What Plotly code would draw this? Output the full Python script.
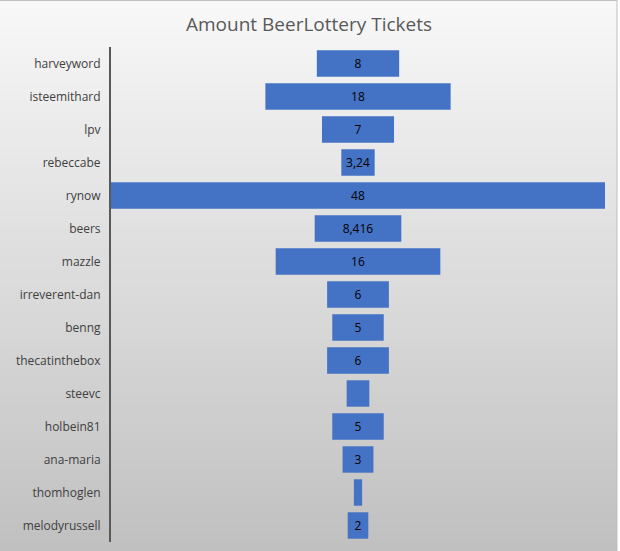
import plotly.graph_objects as go

names = ["harveyword", "isteemithard", "lpv", "rebeccabe", "rynow", "beers", "mazzle",
         "irreverent-dan", "benng", "thecatinthebox", "steevc", "holbein81", "ana-maria",
         "thomhoglen", "melodyrussell"]
tickets = [8, 18, 7, 3.24, 48, 8.416, 16, 6, 5, 6, 2.2, 5, 3, 0.8, 2]
labels = ["8", "18", "7", "3,24", "48", "8,416", "16", "6", "5", "6", "", "5", "3", "", "2"]

W, H = 620, 551
L, R, T, B = 111, 15, 47, 9
pw, ph = W - L - R, H - T - B

def px_x(x):
    return (x - L) / pw

def px_y(y):
    return 1 - (y - T) / ph

shapes = []
n = 60
top_c, bot_c = 248, 192
for i in range(n):
    y0 = H * i / n
    y1 = H * (i + 1) / n + 1
    v = round(top_c + (bot_c - top_c) * (i + 0.5) / n)
    shapes.append(dict(type="rect", xref="paper", yref="paper", layer="below",
                       x0=px_x(0), x1=px_x(617), y0=px_y(y1), y1=px_y(y0),
                       line=dict(width=0), fillcolor=f"rgb({v},{v},{v})"))
# chart border and white strip at right
shapes.append(dict(type="rect", xref="paper", yref="paper", layer="below",
                   x0=px_x(617), x1=px_x(621), y0=px_y(H + 1), y1=px_y(-1),
                   line=dict(width=0), fillcolor="white"))
shapes.append(dict(type="line", xref="paper", yref="paper", layer="below",
                   x0=px_x(617), x1=px_x(617), y0=px_y(H), y1=px_y(0),
                   line=dict(width=1, color="#bfbfbf")))
shapes.append(dict(type="line", xref="paper", yref="paper", layer="below",
                   x0=px_x(0), x1=px_x(617), y0=px_y(0.5), y1=px_y(0.5),
                   line=dict(width=1, color="#bfbfbf")))

fig = go.Figure(go.Funnel(
    y=names, x=tickets, text=labels, textinfo="text", textposition="inside",
    insidetextanchor="middle",
    textfont=dict(family="Open Sans, sans-serif", size=12, color="black"),
    marker=dict(color="#4472c4", line=dict(width=0)),
    connector=dict(visible=False),
    hoverinfo="y+x",
))

m = max(tickets) / 2
fig.update_layout(
    width=W, height=H,
    margin=dict(l=L, r=R, t=T, b=B),
    paper_bgcolor="white", plot_bgcolor="rgba(0,0,0,0)",
    shapes=shapes,
    bargap=0.15,
    showlegend=False,
    title=dict(text="Amount BeerLottery Tickets", x=309 / W, xanchor="center",
               y=1 - 24 / H, yanchor="middle",
               font=dict(family="Open Sans, sans-serif", size=19, color="#595959")),
    xaxis=dict(range=[-m, m], visible=False),
    yaxis=dict(showline=True, linecolor="#595959", linewidth=2, ticks="",
               ticklabelstandoff=6, showgrid=False, zeroline=False,
               tickfont=dict(family="Open Sans, sans-serif", size=12, color="#404040")),
)
fig.write_html("out.html")
